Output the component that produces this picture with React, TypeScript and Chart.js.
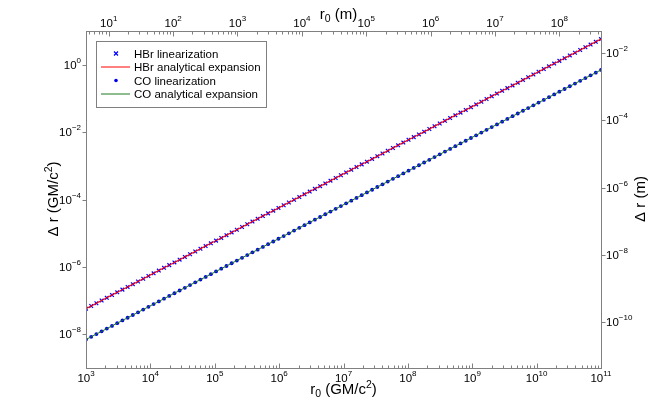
import React, { useEffect, useRef } from "react";
import { Chart, registerables } from "chart.js";

Chart.register(...registerables);

// r0 in units of GM/c^2
const r0Values = [
  1.000e3, 1.205e3, 1.451e3, 1.748e3, 2.105e3, 2.535e3, 3.054e3, 3.678e3, 4.431e3, 5.337e3,
  6.428e3, 7.743e3, 9.326e3, 1.123e4, 1.353e4, 1.630e4, 1.963e4, 2.365e4, 2.848e4, 3.431e4,
  4.132e4, 4.977e4, 5.995e4, 7.221e4, 8.698e4, 1.048e5, 1.262e5, 1.520e5, 1.831e5, 2.205e5,
  2.656e5, 3.199e5, 3.854e5, 4.642e5, 5.591e5, 6.734e5, 8.111e5, 9.770e5, 1.177e6, 1.418e6,
  1.707e6, 2.057e6, 2.477e6, 2.984e6, 3.594e6, 4.329e6, 5.214e6, 6.280e6, 7.565e6, 9.112e6,
  1.098e7, 1.322e7, 1.592e7, 1.918e7, 2.310e7, 2.783e7, 3.352e7, 4.037e7, 4.863e7, 5.857e7,
  7.055e7, 8.498e7, 1.024e8, 1.233e8, 1.485e8, 1.789e8, 2.154e8, 2.595e8, 3.126e8, 3.765e8,
  4.535e8, 5.462e8, 6.579e8, 7.925e8, 9.546e8, 1.150e9, 1.385e9, 1.668e9, 2.009e9, 2.420e9,
  2.915e9, 3.511e9, 4.229e9, 5.094e9, 6.136e9, 7.391e9, 8.902e9, 1.072e10, 1.292e10, 1.556e10,
  1.874e10, 2.257e10, 2.719e10, 3.275e10, 3.944e10, 4.751e10, 5.722e10, 6.893e10, 8.302e10, 1.000e11,
];

// Delta r (GM/c^2), HBr
const hbrLinearization = [
  5.750e-8, 6.926e-8, 8.342e-8, 1.005e-7, 1.210e-7, 1.458e-7, 1.756e-7, 2.115e-7, 2.548e-7, 3.069e-7,
  3.696e-7, 4.452e-7, 5.362e-7, 6.459e-7, 7.780e-7, 9.371e-7, 1.129e-6, 1.360e-6, 1.638e-6, 1.973e-6,
  2.376e-6, 2.862e-6, 3.447e-6, 4.152e-6, 5.001e-6, 6.024e-6, 7.256e-6, 8.739e-6, 1.053e-5, 1.268e-5,
  1.527e-5, 1.840e-5, 2.216e-5, 2.669e-5, 3.215e-5, 3.872e-5, 4.664e-5, 5.618e-5, 6.767e-5, 8.151e-5,
  9.818e-5, 1.183e-4, 1.424e-4, 1.716e-4, 2.066e-4, 2.489e-4, 2.998e-4, 3.611e-4, 4.350e-4, 5.239e-4,
  6.311e-4, 7.601e-4, 9.156e-4, 1.103e-3, 1.328e-3, 1.600e-3, 1.927e-3, 2.321e-3, 2.796e-3, 3.368e-3,
  4.057e-3, 4.886e-3, 5.885e-3, 7.089e-3, 8.539e-3, 1.029e-2, 1.239e-2, 1.492e-2, 1.797e-2, 2.165e-2,
  2.608e-2, 3.141e-2, 3.783e-2, 4.557e-2, 5.489e-2, 6.611e-2, 7.963e-2, 9.592e-2, 0.1155, 0.1392,
  0.1676, 0.2019, 0.2432, 0.2929, 0.3528, 0.4250, 0.5119, 0.6166, 0.7427, 0.8945,
  1.078, 1.298, 1.563, 1.883, 2.268, 2.732, 3.290, 3.963, 4.774, 5.750,
];
const hbrAnalytical = hbrLinearization;

// Delta r (GM/c^2), CO
const coLinearization = [
  7.000e-9, 8.432e-9, 1.016e-8, 1.223e-8, 1.474e-8, 1.775e-8, 2.138e-8, 2.575e-8, 3.101e-8, 3.736e-8,
  4.500e-8, 5.420e-8, 6.528e-8, 7.863e-8, 9.472e-8, 1.141e-7, 1.374e-7, 1.655e-7, 1.994e-7, 2.401e-7,
  2.892e-7, 3.484e-7, 4.196e-7, 5.055e-7, 6.088e-7, 7.333e-7, 8.833e-7, 1.064e-6, 1.282e-6, 1.544e-6,
  1.859e-6, 2.240e-6, 2.698e-6, 3.249e-6, 3.914e-6, 4.714e-6, 5.678e-6, 6.839e-6, 8.238e-6, 9.923e-6,
  1.195e-5, 1.440e-5, 1.734e-5, 2.089e-5, 2.516e-5, 3.030e-5, 3.650e-5, 4.396e-5, 5.295e-5, 6.378e-5,
  7.683e-5, 9.253e-5, 1.115e-4, 1.343e-4, 1.617e-4, 1.948e-4, 2.346e-4, 2.826e-4, 3.404e-4, 4.100e-4,
  4.938e-4, 5.948e-4, 7.165e-4, 8.630e-4, 1.040e-3, 1.252e-3, 1.508e-3, 1.817e-3, 2.188e-3, 2.636e-3,
  3.175e-3, 3.824e-3, 4.606e-3, 5.547e-3, 6.682e-3, 8.049e-3, 9.694e-3, 1.168e-2, 1.407e-2, 1.694e-2,
  2.041e-2, 2.458e-2, 2.961e-2, 3.566e-2, 4.295e-2, 5.174e-2, 6.232e-2, 7.506e-2, 9.041e-2, 0.1089,
  0.1312, 0.1580, 0.1903, 0.2292, 0.2761, 0.3326, 0.4006, 0.4825, 0.5812, 0.7000,
];
const coAnalytical = coLinearization;

// Unit conversion GM/c^2 -> metres (Earth mass)
const metresPerUnit = 4.435e-3;

// Axis ranges (GM/c^2)
const xRange = [1e3, 1e11];
const yRange = [1e-9, 1e1];

// Tick exponents
const bottomTickExps = [3, 4, 5, 6, 7, 8, 9, 10, 11];
const topTickExps = [1, 2, 3, 4, 5, 6, 7, 8];
const leftTickExps = [0, -2, -4, -6, -8];
const rightTickExps = [-2, -4, -6, -8, -10];

const legendLabels = [
  "HBr linearization",
  "HBr analytical expansion",
  "CO linearization",
  "CO analytical expansion",
];

const FONT = '"Liberation Sans", Arial, Helvetica, sans-serif';
const AXIS_COLOR = "#808080";
const HBR_MARK = "#0000ff";
const HBR_LINE = "#ff0000";
const CO_MARK = "#0000ee";
const CO_LINE = "#1f7a1f";

type Seg = { t: string; size: number; dy: number };

function drawRich(
  ctx: CanvasRenderingContext2D,
  segs: Seg[],
  x: number,
  y: number,
  align: "left" | "center" | "right"
) {
  let total = 0;
  const widths: number[] = [];
  for (const s of segs) {
    ctx.font = `${s.size}px ${FONT}`;
    const w = ctx.measureText(s.t).width;
    widths.push(w);
    total += w;
  }
  let cx = align === "left" ? x : align === "center" ? x - total / 2 : x - total;
  ctx.textAlign = "left";
  ctx.textBaseline = "alphabetic";
  segs.forEach((s, i) => {
    ctx.font = `${s.size}px ${FONT}`;
    ctx.fillText(s.t, cx, y + s.dy);
    cx += widths[i];
  });
}

function expLabel(e: number): Seg[] {
  const es = e < 0 ? "\u2212" + String(-e) : String(e);
  return [
    { t: "10", size: 11.5, dy: 0 },
    { t: es, size: 8, dy: -6 },
  ];
}

const decorPlugin = {
  id: "decor",
  afterDatasetsDraw(chart: any) {
    const ctx: CanvasRenderingContext2D = chart.ctx;
    const { left, right, top, bottom } = chart.chartArea;
    const xs = chart.scales.x;
    const x2 = chart.scales.x2;
    const ys = chart.scales.y;
    const y2 = chart.scales.y2;
    ctx.save();

    // frame
    ctx.strokeStyle = AXIS_COLOR;
    ctx.lineWidth = 1;
    ctx.strokeRect(Math.round(left) + 0.5, Math.round(top) + 0.5, Math.round(right - left), Math.round(bottom - top));

    const vtick = (px: number, y0: number, len: number) => {
      const xx = Math.round(px) + 0.5;
      ctx.beginPath();
      ctx.moveTo(xx, y0);
      ctx.lineTo(xx, y0 + len);
      ctx.stroke();
    };
    const htick = (py: number, x0: number, len: number) => {
      const yy = Math.round(py) + 0.5;
      ctx.beginPath();
      ctx.moveTo(x0, yy);
      ctx.lineTo(x0 + len, yy);
      ctx.stroke();
    };

    // bottom ticks (inward)
    const bTop = Math.round(bottom) + 0.5;
    for (let d = 2; d <= 11; d++) {
      for (let m = 1; m <= 9; m++) {
        const v = m * Math.pow(10, d);
        if (v < xRange[0] * 0.999 || v > xRange[1] * 1.001) continue;
        const px = xs.getPixelForValue(v);
        vtick(px, bTop, m === 1 ? -5 : -3);
      }
    }
    // top ticks (inward)
    const tTop = Math.round(top) + 0.5;
    const x2min = xRange[0] * metresPerUnit;
    const x2max = xRange[1] * metresPerUnit;
    for (let d = 0; d <= 8; d++) {
      for (let m = 1; m <= 9; m++) {
        const v = m * Math.pow(10, d);
        if (v < x2min || v > x2max) continue;
        const px = x2.getPixelForValue(v);
        vtick(px, tTop, m === 1 ? 5 : 3);
      }
    }
    // left ticks (outward)
    for (const e of leftTickExps) {
      htick(ys.getPixelForValue(Math.pow(10, e)), Math.round(left) + 0.5, -4);
    }
    // right ticks (outward)
    for (const e of rightTickExps) {
      htick(y2.getPixelForValue(Math.pow(10, e)), Math.round(right) + 0.5, 4);
    }

    // tick labels
    ctx.fillStyle = "#000";
    for (const e of bottomTickExps) {
      drawRich(ctx, expLabel(e), xs.getPixelForValue(Math.pow(10, e)), 382, "center");
    }
    for (const e of topTickExps) {
      drawRich(ctx, expLabel(e), x2.getPixelForValue(Math.pow(10, e)), 27, "center");
    }
    for (const e of leftTickExps) {
      drawRich(ctx, expLabel(e), left - 5, ys.getPixelForValue(Math.pow(10, e)) + 4, "right");
    }
    for (const e of rightTickExps) {
      drawRich(ctx, expLabel(e), right + 5, y2.getPixelForValue(Math.pow(10, e)) + 4, "left");
    }

    // axis titles
    const cxp = (left + right) / 2;
    drawRich(
      ctx,
      [
        { t: "r", size: 15, dy: 0 },
        { t: "0", size: 10.5, dy: 3 },
        { t: " (GM/c", size: 15, dy: 0 },
        { t: "2", size: 10.5, dy: -6 },
        { t: ")", size: 15, dy: 0 },
      ],
      cxp,
      394,
      "center"
    );
    drawRich(
      ctx,
      [
        { t: "r", size: 15, dy: 0 },
        { t: "0", size: 10.5, dy: 3 },
        { t: " (m)", size: 15, dy: 0 },
      ],
      cxp - 5,
      19,
      "center"
    );
    ctx.save();
    ctx.translate(58, 199);
    ctx.rotate(-Math.PI / 2);
    drawRich(
      ctx,
      [
        { t: "\u0394 r (GM/c", size: 15, dy: 0 },
        { t: "2", size: 10.5, dy: -6 },
        { t: ")", size: 15, dy: 0 },
      ],
      0,
      0,
      "center"
    );
    ctx.restore();
    ctx.save();
    ctx.translate(645, 199);
    ctx.rotate(-Math.PI / 2);
    drawRich(ctx, [{ t: "\u0394 r (m)", size: 15, dy: 0 }], 0, 0, "center");
    ctx.restore();

    // legend
    const lx = 96.5, ly = 41.5, lw = 170, lh = 66;
    ctx.fillStyle = "#fff";
    ctx.fillRect(lx, ly, lw, lh);
    ctx.strokeStyle = AXIS_COLOR;
    ctx.strokeRect(lx, ly, lw, lh);
    const rows = [53.5, 67, 80.5, 94];
    // row 0: x marker
    ctx.strokeStyle = HBR_MARK;
    ctx.lineWidth = 1.2;
    ctx.beginPath();
    ctx.moveTo(114, rows[0] - 2);
    ctx.lineTo(118, rows[0] + 2);
    ctx.moveTo(118, rows[0] - 2);
    ctx.lineTo(114, rows[0] + 2);
    ctx.stroke();
    ctx.lineWidth = 1;
    // row 1: red line
    ctx.strokeStyle = HBR_LINE;
    ctx.beginPath();
    ctx.moveTo(101, rows[1]);
    ctx.lineTo(130, rows[1]);
    ctx.stroke();
    // row 2: dot
    ctx.fillStyle = CO_MARK;
    ctx.beginPath();
    ctx.arc(116, rows[2], 1.8, 0, Math.PI * 2);
    ctx.fill();
    // row 3: green line
    ctx.strokeStyle = CO_LINE;
    ctx.beginPath();
    ctx.moveTo(101, rows[3]);
    ctx.lineTo(130, rows[3]);
    ctx.stroke();
    ctx.fillStyle = "#000";
    legendLabels.forEach((lab, i) => {
      drawRich(ctx, [{ t: lab, size: 11.5, dy: 0 }], 134, rows[i] + 4, "left");
    });

    ctx.restore();
  },
};

export default function App() {
  const canvasRef = useRef<HTMLCanvasElement | null>(null);

  useEffect(() => {
    if (!canvasRef.current) return;
    const pts = (ys: number[]) => r0Values.map((x, i) => ({ x, y: ys[i] }));
    const chart = new Chart(canvasRef.current, {
      type: "scatter",
      data: {
        datasets: [
          {
            label: legendLabels[1],
            data: pts(hbrAnalytical),
            showLine: true,
            borderColor: HBR_LINE,
            borderWidth: 1.1,
            pointRadius: 0,
            order: 0,
            xAxisID: "x",
            yAxisID: "y",
          },
          {
            label: legendLabels[3],
            data: pts(coAnalytical),
            showLine: true,
            borderColor: CO_LINE,
            borderWidth: 1,
            pointRadius: 0,
            order: 1,
            xAxisID: "x",
            yAxisID: "y",
          },
          {
            label: legendLabels[0],
            data: pts(hbrLinearization),
            showLine: false,
            pointStyle: "crossRot",
            pointRadius: 2.6,
            pointBorderWidth: 1.2,
            borderColor: HBR_MARK,
            backgroundColor: HBR_MARK,
            order: 2,
            xAxisID: "x",
            yAxisID: "y",
          },
          {
            label: legendLabels[2],
            data: pts(coLinearization),
            showLine: false,
            pointStyle: "circle",
            pointRadius: 1.9,
            pointBorderWidth: 0,
            borderColor: CO_MARK,
            backgroundColor: CO_MARK,
            order: 3,
            xAxisID: "x",
            yAxisID: "y",
          },
        ],
      },
      options: {
        animation: false,
        responsive: false,
        events: [],
        layout: { padding: { left: 86, right: 63, top: 31, bottom: 47 } },
        plugins: { legend: { display: false }, tooltip: { enabled: false } },
        scales: {
          x: { type: "logarithmic", position: "bottom", min: xRange[0], max: xRange[1], display: false },
          x2: {
            type: "logarithmic",
            axis: "x",
            position: "top",
            min: xRange[0] * metresPerUnit,
            max: xRange[1] * metresPerUnit,
            display: false,
          },
          y: { type: "logarithmic", position: "left", min: yRange[0], max: yRange[1], display: false },
          y2: {
            type: "logarithmic",
            axis: "y",
            position: "right",
            min: yRange[0] * metresPerUnit,
            max: yRange[1] * metresPerUnit,
            display: false,
          },
        },
      },
      plugins: [decorPlugin],
    });
    return () => chart.destroy();
  }, []);

  return (
    <div style={{ position: "fixed", left: 0, top: 0, width: 664, height: 415, background: "#fff" }}>
      <canvas ref={canvasRef} width={664} height={415} style={{ display: "block" }} />
    </div>
  );
}
